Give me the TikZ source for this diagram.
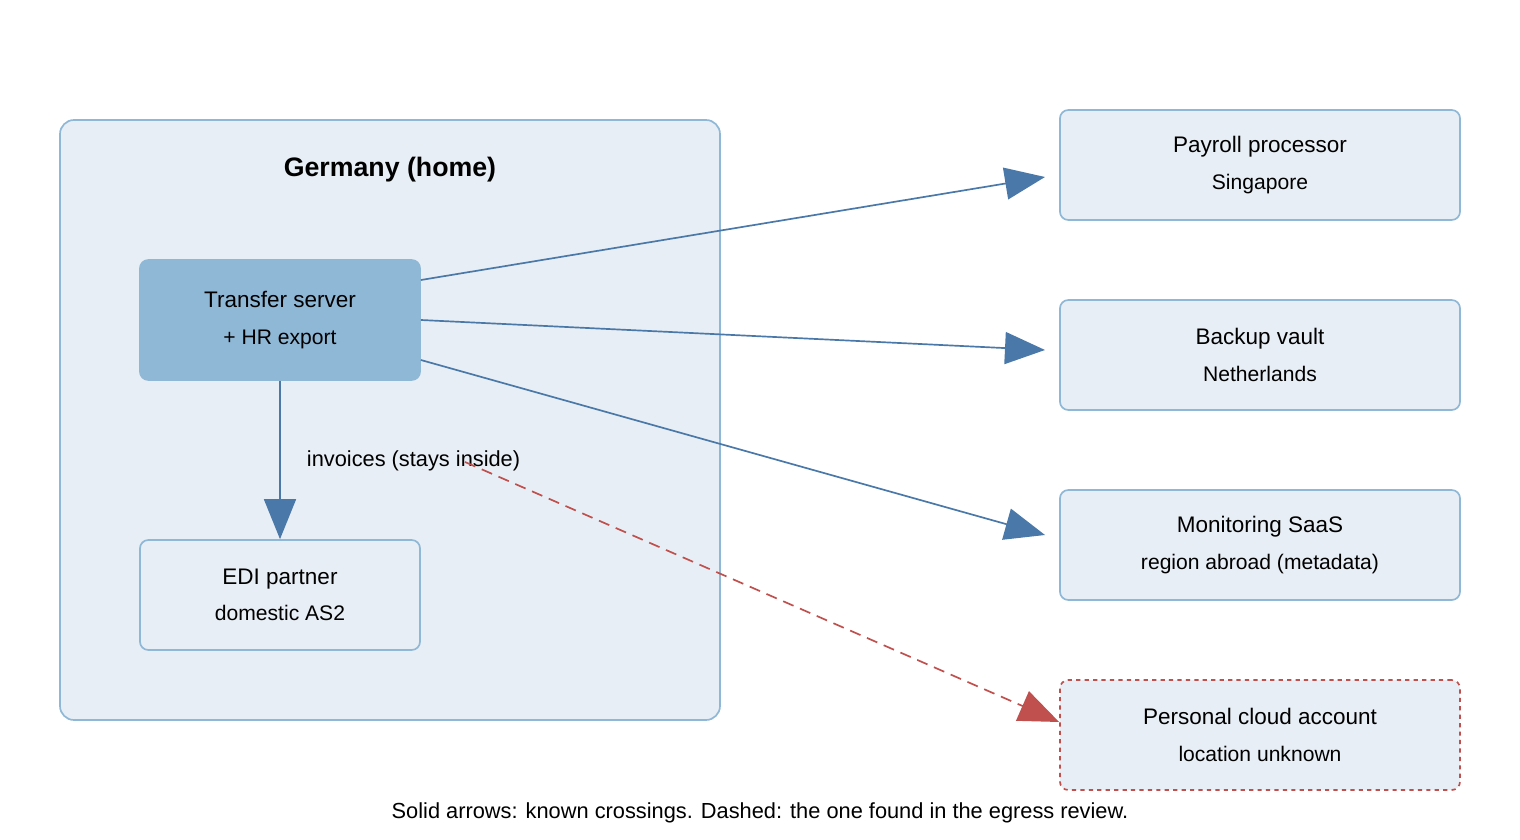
\documentclass[tikz,border=0pt]{standalone}
\usepackage{fontspec}
\setmainfont{Liberation Sans}
\usetikzlibrary{arrows.meta,positioning}
\definecolor{boxfill}{RGB}{232,238,245}
\definecolor{boxline}{RGB}{143,184,214}
\definecolor{flowblue}{RGB}{74,120,168}
\definecolor{alertred}{RGB}{192,80,77}
\begin{document}
\begin{tikzpicture}[
    x=0.025cm, y=-0.025cm,
    zone/.style={rectangle, rounded corners=10pt, draw=boxline, very thick, fill=boxfill},
    box/.style={rectangle, rounded corners=6pt, draw=boxline, very thick, fill=boxfill, minimum width=10cm, minimum height=2.75cm, align=center, font=\fontsize{16}{26}\selectfont},
    arrow/.style={-{Triangle[length=1cm, width=0.8cm]}, very thick, flowblue},
    note/.style={font=\fontsize{15.5}{18}\selectfont}
]
\useasboundingbox (0,0) rectangle (1520,840);

% Home zone
\draw[zone] (60,120) rectangle (720,720);
\node[font=\bfseries\fontsize{19}{22}\selectfont] (home) at (390,170) {Germany (home)};

% Inside the zone
\node[box, fill=boxline, draw=boxline, minimum width=7cm, minimum height=3cm] (transfer) at (280,320) {Transfer server\\{\fontsize{15}{18}\selectfont + HR export}};
\node[box, minimum width=7cm] (edi) at (280,595) {EDI partner\\{\fontsize{15}{18}\selectfont domestic AS2}};

% Destinations abroad
\node[box] (payroll) at (1260,165) {Payroll processor\\{\fontsize{15}{18}\selectfont Singapore}};
\node[box] (backup) at (1260,355) {Backup vault\\{\fontsize{15}{18}\selectfont Netherlands}};
\node[box] (monitor) at (1260,545) {Monitoring SaaS\\{\fontsize{15}{18}\selectfont region abroad (metadata)}};
\node[box, draw=alertred, dashed] (cloud) at (1260,735) {Personal cloud account\\{\fontsize{15}{18}\selectfont location unknown}};

% Known crossings
\draw[arrow] (transfer.east |- 0,280) -- (1045,177);
\draw[arrow] (transfer.east) -- (1045,350);
\draw[arrow] (transfer.east |- 0,360) -- (1045,535);
\draw[arrow] (transfer.south) -- (edi.north);
\node[note, anchor=west] (invoices) at (302,461) {invoices (stays inside)};

% Found in review
\coordinate (leak) at (465,462);
\draw[-{Triangle[length=1cm, width=0.8cm]}, very thick, alertred, dash pattern=on 8pt off 5pt] (leak) -- (cloud.west |- 0,722);

\node[note] (caption) at (760,813) {Solid arrows: known crossings. Dashed: the one found in the egress review.};
\end{tikzpicture}
\end{document}
